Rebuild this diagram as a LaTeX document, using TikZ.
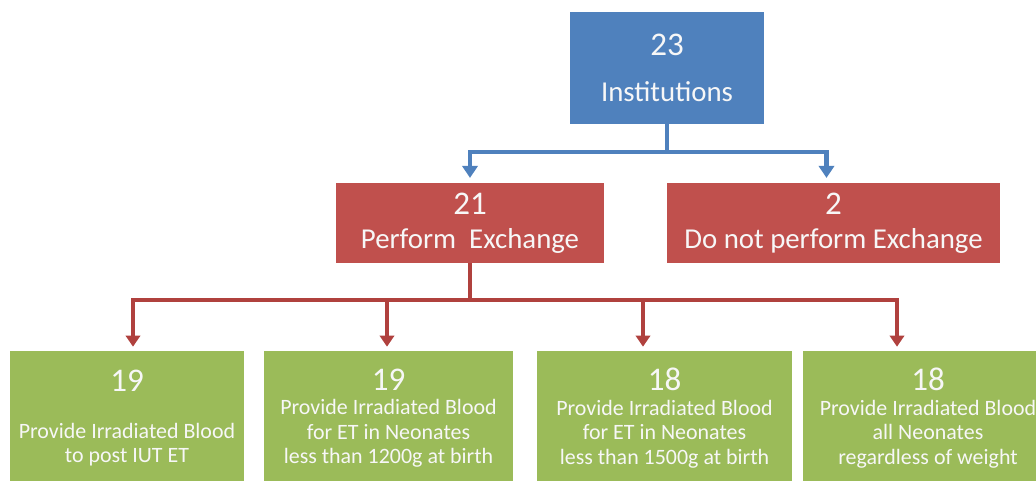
\documentclass[tikz,border=0pt]{standalone}
\usepackage{fontspec}
\setmainfont{Carlito}
\usepackage{tikz}
\usetikzlibrary{positioning,arrows.meta,calc}
\definecolor{instblue}{HTML}{4F81BD}
\definecolor{exred}{HTML}{C0504D}
\definecolor{linkred}{HTML}{B0413E}
\definecolor{irrgreen}{HTML}{9BBB59}
\newcommand\bignum{\fontsize{23.5pt}{24pt}\selectfont}
\newcommand\midtext{\fontsize{20.5pt}{24pt}\selectfont}
\newcommand\smalltext{\fontsize{15.6pt}{17.4pt}\selectfont}
\tikzset{
  box/.style={rectangle, inner sep=0pt, align=center, text=white!94!gray},
  topbox/.style={box, fill=instblue, font=\midtext,
    minimum width=4.85cm, minimum height=2.8cm},
  redbox/.style={box, fill=exred, font=\midtext, minimum height=2.0cm},
  greenbox/.style={box, fill=irrgreen, font=\smalltext, minimum height=3.35cm},
  bluelink/.style={draw=instblue, line width=3.3pt},
  bluearrow/.style={bluelink, -{Triangle[length=0.3cm, width=0.38cm]},
    shorten >=0.12cm},
  redlink/.style={draw=linkred, line width=2.7pt},
  redarrow/.style={redlink, -{Triangle[length=0.28cm, width=0.36cm]},
    shorten >=0.1cm},
}

\begin{document}
\begin{tikzpicture}[x=0.025cm, y=-0.025cm]
\clip (0,0) rectangle (1036,480);
% top box
\node[topbox] (inst) at (667,68) {{\bignum 23}\\[9pt]Institutions};
% exchange row
\node[redbox, minimum width=6.7cm] (perf) at (470,223)
  {{\bignum 21}\\Perform\ \ Exchange};
\node[redbox, minimum width=8.325cm] (noperf) at (833.5,223)
  {{\bignum 2}\\Do not perform Exchange};
% irradiated blood row
\node[greenbox, minimum width=5.85cm] (g1) at (127,418)
  {{\bignum 19}\\[16pt]Provide Irradiated Blood\\to post IUT ET};
\node[greenbox, minimum width=6.225cm] (g2) at (388.5,418)
  {{\bignum 19}\\Provide Irradiated Blood\\for ET in Neonates\\less than 1200g at birth};
\node[greenbox, minimum width=6.375cm] (g3) at (664.5,418)
  {{\bignum 18}\\Provide Irradiated Blood\\for ET in Neonates\\less than 1500g at birth};
\node[greenbox, minimum width=6.25cm] (g4) at (928,418)
  {{\bignum 18}\\Provide Irradiated Blood\\all Neonates\\regardless of weight};
% links
\coordinate (hub) at (667,152);
\draw[bluelink] (inst) -- (hub);
\draw[bluearrow] (hub) -| (perf);
\draw[bluearrow] (hub) -| ($(noperf.north)+(-7,0)$);
\coordinate (bus) at (470,300);
\draw[redlink] (perf) -- (bus);
\draw[redarrow] (bus) -| ($(g1.north)+(6,0)$);
\draw[redarrow] (bus) -| ($(g2.north)+(-1.5,0)$);
\draw[redarrow] (bus) -| ($(g3.north)+(-21.5,0)$);
\draw[redarrow] (bus) -| ($(g4.north)+(-31,0)$);
\end{tikzpicture}
\end{document}
